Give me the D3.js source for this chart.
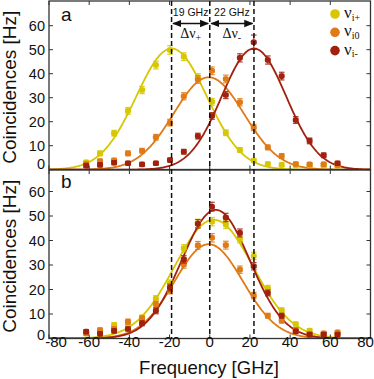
<!DOCTYPE html>
<html><head><meta charset="utf-8">
<script src="https://cdn.jsdelivr.net/npm/d3@7"></script>
<style>body{margin:0;background:#fff}svg{display:block}</style>
</head><body><svg id="c" width="374" height="379"></svg>
<script>
// ---------- data ----------
const freqs = [-61.5, -54.6, -47.6, -40.7, -33.7, -26.8, -19.8, -12.9, -5.9, 1.1, 8.0, 15.0, 21.9, 28.9, 35.8, 42.8, 49.7, 56.7, 63.6];
const seriesLabels = ["i+", "i0", "i-"];
const seriesColors = ["#d6c700", "#e07a16", "#a1200e"];

// panel a
const yellowA = [3.1, 6.8, 15.2, 24.5, 33.2, 43.6, 49.9, 47.1, 38.5, 28.3, 15.4, 8.2, 3.8, 2.4, 2.0, 1.9, 1.8, 1.8, 1.7];
const orangeA = [2.4, 3.6, 3.9, 6.8, 7.9, 13.5, 19.6, 30.6, 37.6, 41.2, 37.8, 28.1, 17.6, 9.3, 5.7, 2.4, 2.2, 2.3, 2.0];
const redA    = [1.7, 2.0, 2.9, 2.7, 2.2, 2.7, 4.0, 7.5, 14.0, 22.4, 31.1, 46.6, 53.1, 45.7, 39.0, 20.7, 12.0, 6.0, 2.7];
const errYellowA = [0.8, 1.0, 1.2, 1.4, 1.5, 1.6, 1.8, 1.6, 1.5, 1.4, 1.2, 1.0, 0.8, 0.8, 0.8, 0.8, 0.8, 0.8, 0.8];
const errOrangeA = [0.8, 0.8, 0.8, 1.0, 1.0, 1.2, 1.4, 1.5, 1.6, 1.6, 1.6, 1.5, 1.3, 1.0, 1.0, 0.8, 0.8, 0.8, 0.8];
const errRedA    = [0.8, 0.8, 0.8, 0.8, 0.8, 0.8, 0.8, 1.0, 1.2, 1.4, 1.5, 1.7, 3.0, 1.7, 1.6, 1.4, 1.2, 1.0, 0.8];

// panel b
const yellowB = [2.0, 3.0, 5.5, 5.9, 8.6, 16.3, 22.5, 36.8, 47.0, 47.7, 46.5, 40.6, 33.7, 20.5, 11.5, 5.9, 3.2, 1.8, 1.8];
const orangeB = [2.2, 3.5, 4.0, 6.9, 8.2, 14.0, 19.5, 30.2, 38.0, 41.1, 38.1, 28.1, 17.5, 9.3, 7.3, 3.6, 1.9, 2.1, 2.5];
const redB    = [2.8, 1.9, 3.1, 3.9, 6.2, 11.3, 20.8, 32.3, 46.8, 53.8, 49.4, 43.1, 29.5, 18.6, 9.3, 2.9, 1.6, 1.6, 1.6];
const errYellowB = [0.8, 0.8, 1.0, 1.0, 1.0, 1.2, 1.4, 1.5, 1.7, 1.7, 1.6, 1.5, 1.5, 1.2, 1.0, 0.8, 0.8, 0.8, 0.8];
const errOrangeB = [0.8, 0.8, 0.8, 1.0, 1.0, 1.2, 1.3, 1.5, 1.6, 1.7, 1.6, 1.5, 1.3, 1.0, 1.0, 0.8, 0.8, 0.8, 0.8];
const errRedB    = [0.8, 0.8, 0.8, 0.8, 1.0, 1.2, 1.4, 1.5, 1.7, 1.8, 1.7, 1.6, 1.5, 1.2, 1.0, 0.8, 0.8, 0.8, 0.8];

// Gaussian fit parameters (yellow, orange, red)
const fitCenterA = [-19.0, -0.5, 22.0], fitAmpA = [50.5, 38.5, 50.5], fitSigmaA = [17.5, 17.5, 16.0];
const fitCenterB = [2.0, -0.5, 3.0],   fitAmpB = [48.5, 38.5, 52.5], fitSigmaB = [19.5, 17.0, 17.0];

const xTicks = [-80, -60, -40, -20, 0, 20, 40, 60, 80];
const yTicks = [0, 10, 20, 30, 40, 50, 60];
const markerFreqs = [-19, 0, 22];
const gapLabels = ["19 GHz", "22 GHz"];
const deltaLabels = ["+", "-"];

// ---------- drawing ----------
const svg = d3.select("#c");
const L = 49, R = 370.5;
const x = d3.scaleLinear().domain([-80, 80]).range([L, R]);
const panels = [
  {name: "a", top: 1, bottom: 169.5, y: d3.scaleLinear().domain([0, 60]).range([169.7, 25.7]),
   series: [yellowA, orangeA, redA], errs: [errYellowA, errOrangeA, errRedA],
   fit: [fitCenterA, fitAmpA, fitSigmaA], labelY: 20.5, zeroShift: -5.5},
  {name: "b", top: 170, bottom: 338.5, y: d3.scaleLinear().domain([0, 60]).range([338.5, 191.5]),
   series: [yellowB, orangeB, redB], errs: [errYellowB, errOrangeB, errRedB],
   fit: [fitCenterB, fitAmpB, fitSigmaB], labelY: 188, zeroShift: -4}
];
const fontSans = "'Liberation Sans', Arial, Helvetica, sans-serif";
const fontSerif = "'Liberation Serif', 'Times New Roman', serif";
const fitGrid = d3.range(-80, 80.01, 0.5);

panels.forEach((p, pi) => {
  const g = svg.append("g");
  const clipId = "clip" + pi;
  svg.append("clipPath").attr("id", clipId).append("rect")
    .attr("x", L).attr("y", p.top).attr("width", R - L).attr("height", p.bottom - p.top);
  const inner = g.append("g").attr("clip-path", `url(#${clipId})`);

  // fit curves
  const [cs, as, ss] = p.fit;
  const line = d3.line().x(d => x(d[0])).y(d => p.y(d[1]));
  [0, 1, 2].forEach(k => {
    const pts = fitGrid.map(f => [f, as[k] * Math.exp(-((f - cs[k]) ** 2) / (2 * ss[k] ** 2))]);
    inner.append("path").attr("d", line(pts)).attr("fill", "none")
      .attr("stroke", seriesColors[k]).attr("stroke-width", 1.8);
  });

  // points with error bars
  [0, 1, 2].forEach(k => {
    const vals = p.series[k], errs = p.errs[k], col = seriesColors[k];
    const sg = inner.append("g");
    vals.forEach((v, i) => {
      if (v == null) return;
      const cx = x(freqs[i]), e = errs[i];
      const y1 = p.y(v - e), y2 = p.y(v + e);
      sg.append("line").attr("x1", cx).attr("x2", cx).attr("y1", y1).attr("y2", y2)
        .attr("stroke", col).attr("stroke-width", 1.2).attr("opacity", 0.85);
      [y1, y2].forEach(yy => sg.append("line").attr("x1", cx - 2.8).attr("x2", cx + 2.8)
        .attr("y1", yy).attr("y2", yy).attr("stroke", col).attr("stroke-width", 1.2).attr("opacity", 0.85));
      sg.append("rect").attr("x", cx - 3).attr("y", p.y(v) - 2.8).attr("width", 6).attr("height", 5.6)
        .attr("rx", 1.8).attr("fill", col);
    });
  });

  // ticks (inward, all sides)
  const tk = g.append("g").attr("stroke", "#333").attr("stroke-width", 1);
  xTicks.forEach(t => {
    tk.append("line").attr("x1", x(t)).attr("x2", x(t)).attr("y1", p.bottom).attr("y2", p.bottom - 4);
    tk.append("line").attr("x1", x(t)).attr("x2", x(t)).attr("y1", p.top).attr("y2", p.top + 4);
  });
  yTicks.forEach(t => {
    tk.append("line").attr("x1", L).attr("x2", L + 4).attr("y1", p.y(t)).attr("y2", p.y(t));
    tk.append("line").attr("x1", R).attr("x2", R - 4).attr("y1", p.y(t)).attr("y2", p.y(t));
    g.append("text").attr("x", 45).attr("y", p.y(t) + (t === 0 ? p.zeroShift : 0)).attr("dy", "0.36em")
      .attr("text-anchor", "end").attr("font-family", fontSans).attr("font-size", 14.5).attr("fill", "#111")
      .text(t);
  });

  // frame
  g.append("rect").attr("x", L).attr("y", p.top).attr("width", R - L).attr("height", p.bottom - p.top)
    .attr("fill", "none").attr("stroke", "#333").attr("stroke-width", 1.3);

  // panel letter
  g.append("text").attr("x", 61).attr("y", p.labelY).attr("font-family", fontSans).attr("font-size", 19)
    .attr("fill", "#111").text(p.name);

  // y title
  g.append("text").attr("transform", `translate(15.5,${(p.top + p.bottom) / 2 + 2}) rotate(-90)`)
    .attr("text-anchor", "middle").attr("font-family", fontSans).attr("font-size", 19).attr("fill", "#111")
    .text("Coincidences [Hz]");
});

// dashed vertical lines through both panels
markerFreqs.forEach(f => {
  svg.append("line").attr("x1", x(f)).attr("x2", x(f)).attr("y1", 1).attr("y2", 338.5)
    .attr("stroke", "#111").attr("stroke-width", 1.5).attr("stroke-dasharray", "5,3");
});

// x tick labels
xTicks.forEach(t => {
  const shift = t === -80 ? 7 : (t === 80 ? -5 : 0);
  svg.append("text").attr("x", x(t) + shift).attr("y", 346.5).attr("text-anchor", "middle")
    .attr("font-family", fontSans).attr("font-size", 15).attr("fill", "#111").text(t);
});
svg.append("text").attr("x", 209).attr("y", 374).attr("text-anchor", "middle")
  .attr("font-family", fontSans).attr("font-size", 18.5).attr("fill", "#111").text("Frequency [GHz]");

// annotations: gaps and arrows
const defs = svg.append("defs");
["s", "e"].forEach(id => {
  defs.append("marker").attr("id", "ah" + id).attr("viewBox", "0 0 10 10").attr("refX", 9).attr("refY", 5)
    .attr("markerWidth", 7).attr("markerHeight", 7).attr("orient", "auto-start-reverse")
    .append("path").attr("d", "M0,1 L10,5 L0,9 z").attr("fill", "#111");
});
for (let i = 0; i < 2; i++) {
  const xa = x(markerFreqs[i]) + 1.5, xb = x(markerFreqs[i + 1]) - 1.5;
  svg.append("line").attr("x1", xa).attr("x2", xb).attr("y1", 23.5).attr("y2", 23.5)
    .attr("stroke", "#111").attr("stroke-width", 1.3)
    .attr("marker-start", "url(#ahs)").attr("marker-end", "url(#ahe)");
  const mid = (x(markerFreqs[i]) + x(markerFreqs[i + 1])) / 2;
  svg.append("text").attr("x", mid).attr("y", 15.5).attr("text-anchor", "middle")
    .attr("font-family", fontSans).attr("font-size", 10.5).attr("fill", "#111").text(gapLabels[i]);
  const t = svg.append("text").attr("x", mid).attr("y", 37.5).attr("text-anchor", "middle")
    .attr("font-family", fontSerif).attr("font-size", 14).attr("fill", "#111");
  t.append("tspan").text("\u0394\u03bd");
  t.append("tspan").attr("font-size", 10).attr("dy", 3).text(deltaLabels[i]);
}

// legend
const lg = svg.append("g");
seriesLabels.forEach((s, i) => {
  const cy = 14 + i * 18.3;
  lg.append("circle").attr("cx", 335).attr("cy", cy).attr("r", 4.8).attr("fill", seriesColors[i]);
  const t = lg.append("text").attr("x", 344).attr("y", cy + 4).attr("font-family", fontSerif)
    .attr("font-size", 15).attr("fill", "#111");
  t.append("tspan").attr("font-size", 17).text("\u03bd");
  t.append("tspan").attr("font-size", 10).attr("dy", 2.5).text(s);
});
</script></body></html>
